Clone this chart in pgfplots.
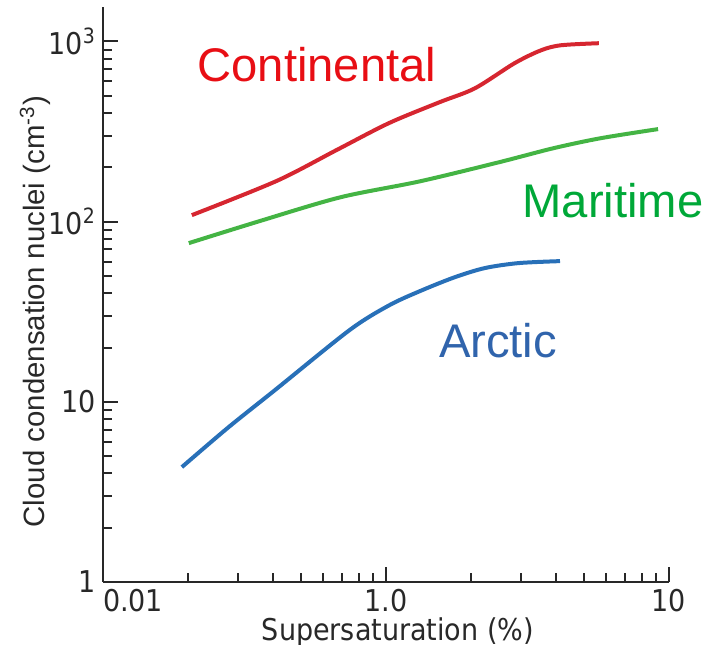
\documentclass[border=0pt]{standalone}
\usepackage{fontspec}
\setmainfont{Liberation Sans}
\newfontfamily\tickfont{DejaVu Sans Condensed}
\usepackage{pgfplots}
\pgfplotsset{compat=1.18}

\definecolor{contline}{RGB}{214,38,48}
\definecolor{conttext}{RGB}{232,14,20}
\definecolor{marline}{RGB}{68,180,68}
\definecolor{martext}{RGB}{0,168,56}
\definecolor{arcline}{RGB}{40,112,184}
\definecolor{arctext}{RGB}{48,100,172}
\definecolor{axisgray}{RGB}{40,40,40}

\begin{document}
\begin{tikzpicture}
\begin{axis}[
  scale only axis, width=283pt, height=287.5pt,
  xmode=log, ymode=log,
  xmin=0.1, xmax=10, ymin=1, ymax=1550,
  axis x line*=bottom, axis y line*=left,
  axis line style={line width=1.1pt, axisgray},
  tick align=inside,
  major tick length=7.5pt, minor tick length=4.5pt,
  every tick/.style={axisgray, line width=1pt},
  xtick={0.1,1,10},
  xticklabels={\makebox[0pt][l]{0.01},1.0,10},
  ytick={1,10,100,1000},
  yticklabels={1,10,10\textsuperscript{2},10\textsuperscript{3}},
  ticklabel style={font=\tickfont\fontsize{15}{18}\selectfont, text=axisgray},
  clip=false,
]
% Continental
\addplot[contline, line width=2pt, smooth] coordinates {
  (0.206,108.5) (0.411,168) (0.668,249) (1.024,351.6) (1.545,459)
  (2.063,549) (2.85,757) (3.54,893) (4.16,951) (5.65,976)
};
% Maritime
\addplot[marline, line width=2pt, smooth] coordinates {
  (0.201,75.9) (0.361,101) (0.691,136.4) (1.315,167) (2.50,213)
  (3.90,255) (5.74,290) (9.15,325.7)
};
% Arctic
\addplot[arcline, line width=2pt, smooth] coordinates {
  (0.190,4.34) (0.277,7.2) (0.405,11.6) (0.744,25.0)
  (1.03,34.4) (1.347,41.7) (1.757,49.2) (2.237,55.2) (2.94,58.8) (4.12,60.3)
};

\node[font=\fontsize{23.6}{28}\selectfont, text=conttext] at (rel axis cs:0.378,0.899) {Continental};
\node[font=\fontsize{23.6}{28}\selectfont, text=martext] at (rel axis cs:0.901,0.663) {Maritime};
\node[font=\fontsize{23.6}{28}\selectfont, text=arctext] at (rel axis cs:0.698,0.419) {Arctic};

\node[rotate=90, font=\fontsize{14.7}{17}\selectfont, text=axisgray] at (rel axis cs:-0.120,0.470)
  {Cloud condensation nuclei (cm\textsuperscript{-3})};
\node[font=\tickfont\fontsize{15}{18}\selectfont, text=axisgray] at (rel axis cs:0.521,-0.087)
  {Supersaturation (\%)};

\coordinate (bbsw) at (rel axis cs:-0.182,-0.1096);
\coordinate (bbne) at (rel axis cs:1.0919,1.0122);
\end{axis}
\pgfresetboundingbox
\useasboundingbox (bbsw) rectangle (bbne);
\end{tikzpicture}
\end{document}
